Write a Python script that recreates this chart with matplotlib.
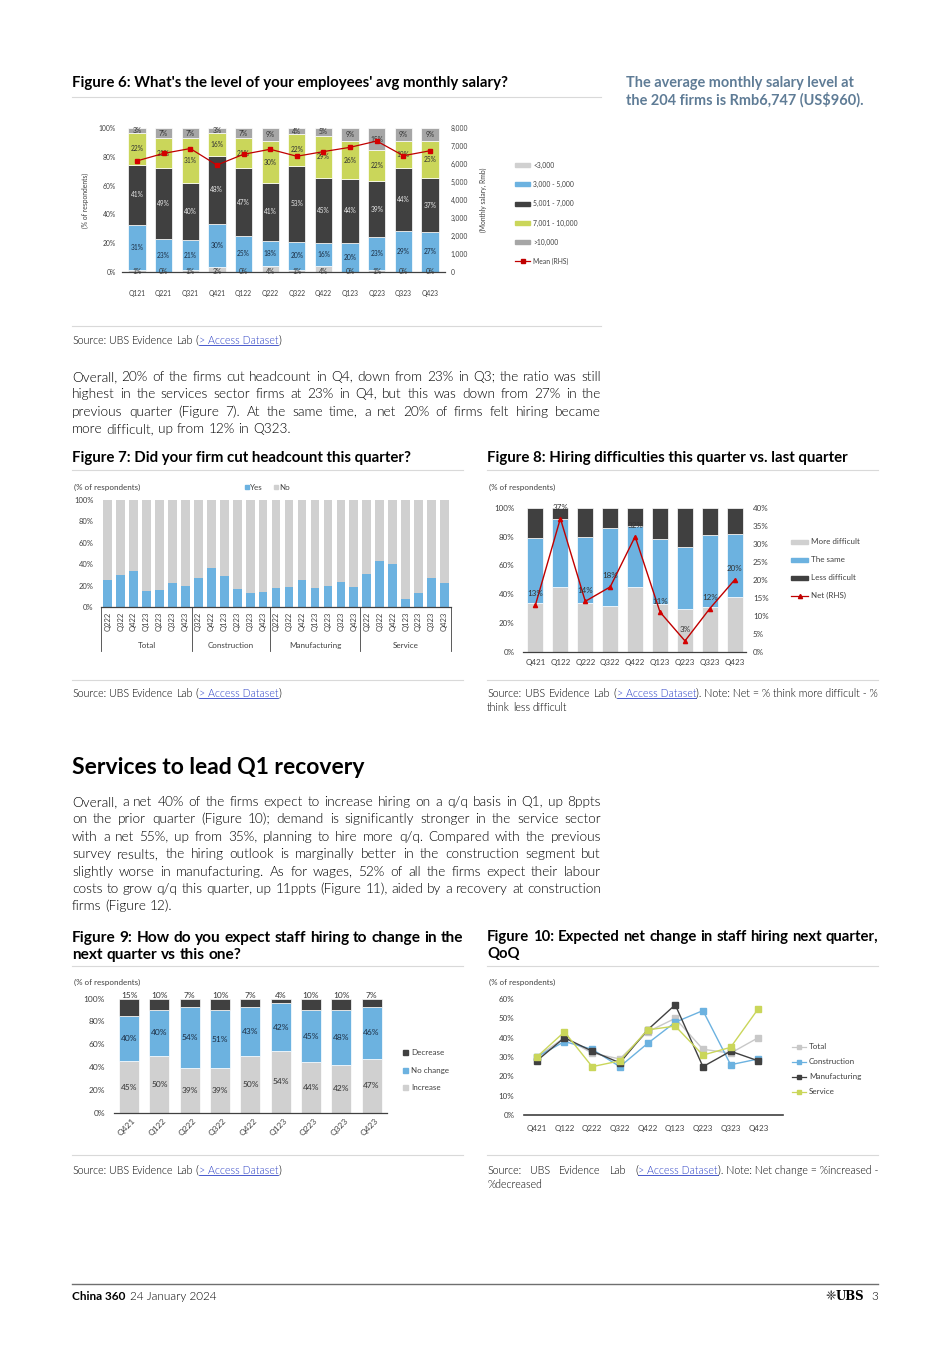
"""Rebuild the China 360 survey page (Figures 6-10) as a single PNG."""

import matplotlib
matplotlib.use("Agg")
import matplotlib.pyplot as plt  # noqa: E402
import matplotlib.transforms as mtransforms  # noqa: E402
from matplotlib.lines import Line2D  # noqa: E402
from matplotlib.patches import Rectangle  # noqa: E402
import numpy as np  # noqa: E402

W, H = 950, 1345
plt.rcParams["font.family"] = ["Lato", "DejaVu Sans"]

INK = "#404040"
BLUE = "#6cb2e0"
DARK = "#404040"
LIGHT = "#d0d0d0"
MIDGRAY = "#a6a6a6"
OLIVE = "#cad65a"
RED = "#d40000"
LINK = "#2b3fc4"
RULE = "#d9d9d9"
SIDE = "#5f7c96"
LIGHTW = 300  # Lato Light

# Figure 6: monthly salary bands (% of respondents) and mean salary (Rmb)
Q6 = ["Q121", "Q221", "Q321", "Q421", "Q122", "Q222",
      "Q322", "Q422", "Q123", "Q223", "Q323", "Q423"]
SAL_LT3 = [1, 0, 1, 3, 0, 4, 1, 4, 0, 1, 0, 0]
SAL_3_5 = [31, 23, 21, 30, 25, 18, 20, 16, 20, 23, 29, 27]
SAL_5_7 = [41, 49, 40, 48, 47, 41, 53, 45, 44, 39, 44, 37]
SAL_7_10 = [22, 21, 31, 16, 21, 30, 22, 29, 26, 22, 19, 25]
SAL_GT10 = [3, 7, 7, 3, 7, 9, 4, 5, 9, 15, 9, 9]
SAL_MEAN = [6180, 6600, 6870, 5950, 6550, 6830, 6440, 6700, 6940, 7290, 6470, 6747]
SAL_NAMES = ["<3,000", "3,000 - 5,000", "5,001 - 7,000", "7,001 - 10,000", ">10,000"]

# Figure 7: share of firms that cut headcount (Yes, %)
CUT_GROUPS = ["Total", "Construction", "Manufacturing", "Service"]
CUT_QTRS = [
    ["Q222", "Q322", "Q422", "Q123", "Q223", "Q323", "Q423"],
    ["Q322", "Q422", "Q123", "Q223", "Q323", "Q423"],
    ["Q222", "Q322", "Q422", "Q123", "Q223", "Q323", "Q423"],
    ["Q222", "Q322", "Q422", "Q123", "Q223", "Q323", "Q423"],
]
CUT_YES = [
    [25, 30, 34, 15, 16, 23, 20],
    [27, 37, 29, 17, 13, 14],
    [18, 19, 25, 18, 20, 24, 19],
    [31, 43, 40, 8, 13, 27, 23],
]

# Figure 8: hiring difficulty vs last quarter
Q8 = ["Q421", "Q122", "Q222", "Q322", "Q422", "Q123", "Q223", "Q323", "Q423"]
DIFF_MORE = [34, 45, 34, 32, 45, 33, 30, 31, 38]
DIFF_SAME = [45, 47, 46, 54, 42, 45, 43, 50, 44]
DIFF_LESS = [21, 8, 20, 14, 13, 22, 27, 19, 18]
DIFF_NET = [13, 37, 14, 18, 32, 11, 3, 12, 20]

# Figure 9: expected hiring next quarter
HIRE_INC = [45, 50, 39, 39, 50, 54, 44, 42, 47]
HIRE_SAME = [40, 40, 54, 51, 43, 42, 45, 48, 46]
HIRE_DEC = [15, 10, 7, 10, 7, 4, 10, 10, 7]

# Figure 10: net change in hiring by sector (%)
NET_TOTAL = [30, 40, 32, 29, 43, 50, 34, 32, 40]
NET_CONSTR = [30, 38, 34, 25, 37, 48, 54, 26, 29]
NET_MANUF = [28, 40, 33, 27, 44, 57, 25, 33, 28]
NET_SERV = [30, 43, 25, 28, 44, 46, 31, 35, 55]

PARA1 = [
    "Overall, 20% of the firms cut headcount in Q4, down from 23% in Q3; the ratio was still",
    "highest in the services sector firms at 23% in Q4, but this was down from 27% in the",
    "previous quarter (Figure 7). At the same time, a net 20% of firms felt hiring became",
    "more difficult, up from 12% in Q323.",
]
PARA2 = [
    "Overall, a net 40% of the firms expect to increase hiring on a q/q basis in Q1, up 8ppts",
    "on the prior quarter (Figure 10); demand is significantly stronger in the service sector",
    "with a net 55%, up from 35%, planning to hire more q/q. Compared with the previous",
    "survey results, the hiring outlook is marginally better in the construction segment but",
    "slightly worse in manufacturing. As for wages, 52% of all the firms expect their labour",
    "costs to grow q/q this quarter, up 11ppts (Figure 11), aided by a recovery at construction",
    "firms (Figure 12).",
]

fig = plt.figure(figsize=(W / 100, H / 100), dpi=100)
RENDERER = fig.canvas.get_renderer()


def fx(x):
    return x / W


def fy(y):
    return 1 - y / H


def add_axes(x0, y0, x1, y1):
    return fig.add_axes([fx(x0), fy(y1), (x1 - x0) / W, (y1 - y0) / H])


def txt(x, y, s, size, **kw):
    kw.setdefault("va", "center")
    kw.setdefault("color", "black")
    return fig.text(fx(x), fy(y), s, fontsize=size, **kw)


def width_px(t):
    return t.get_window_extent(RENDERER).width


def rule(x0, x1, y, color=RULE, lw=0.8):
    fig.add_artist(Line2D([fx(x0), fx(x1)], [fy(y), fy(y)], color=color, lw=lw,
                          transform=fig.transFigure))


# Font size that makes a string span the given pixel width.
def fit_size(s, width, **kw):
    t = txt(0, 0, s, 10, **kw)
    w = width_px(t)
    t.remove()
    return 10 * width / w


def link_source(note=""):
    tok = [[("Source:", False)], [("UBS", False)], [("Evidence", False)], [("Lab", False)],
           [("(", False), ("> Access Dataset", True), (")" + note, False)]]
    return tok


# Lay out lines word by word, justified between x0 and x1 (last line flush left).
# y0 is the visual centre of the first line; words sit on a common baseline.
def paragraph(x0, x1, y0, dy, lines, size, justify_last=False, **kw):
    color = kw.pop("color", "black")
    kw["va"] = "baseline"

    def build(tok, sz):
        out = []
        for s, link in tok:
            t = txt(0, 0, s, sz, color=LINK if link else color, **kw)
            out.append([t, width_px(t), link])
        return out

    toks = [[[(w, False)] for w in ln.split()] if isinstance(ln, str) else ln
            for ln in lines]
    while True:
        a, b = txt(0, 0, "n n", size, **kw), txt(0, 0, "nn", size, **kw)
        space = width_px(a) - width_px(b)
        a.remove()
        b.remove()
        built = [[build(tok, size) for tok in line] for line in toks]
        widest = max(sum(w for tok in line for _, w, _ in tok) + space * (len(line) - 1)
                     for line in built)
        if widest <= (x1 - x0) or size < 4:
            break
        for line in built:
            for tok in line:
                for t, _, _ in tok:
                    t.remove()
        size *= (x1 - x0) / widest * 0.998
    em = size * 100 / 72
    for i, line in enumerate(built):
        base = y0 + i * dy + em * 0.36
        total = sum(w for tok in line for _, w, _ in tok)
        last = i == len(built) - 1
        if (last and not justify_last) or len(line) == 1:
            gap = space
        else:
            gap = (x1 - x0 - total) / (len(line) - 1)
        x = x0
        for tok in line:
            for t, w, link in tok:
                t.set_position((fx(x), fy(base)))
                if link:
                    ul = base + em * 0.12
                    fig.add_artist(Line2D([fx(x), fx(x + w)], [fy(ul), fy(ul)], color=LINK,
                                          lw=0.6, transform=fig.transFigure))
                x += w
            x += gap
    return size


def style_axes(ax, size, left_pad, bottom_pad):
    for s in ax.spines.values():
        s.set_visible(False)
    ax.spines["bottom"].set_visible(True)
    ax.spines["bottom"].set_color(INK)
    ax.spines["bottom"].set_linewidth(0.9)
    ax.tick_params(length=0, labelsize=size, labelcolor=INK)
    ax.tick_params(axis="y", pad=left_pad)
    ax.tick_params(axis="x", pad=bottom_pad)
    ax.set_facecolor("none")


def legend_patch(x0, x1, y, color, label, size, h=4):
    fig.add_artist(Rectangle((fx(x0), fy(y + h / 2)), (x1 - x0) / W, h / H, color=color,
                             transform=fig.transFigure))
    txt(x1 + 3, y, label, size, color=INK)


def legend_line(x0, x1, y, color, marker, label, size, ms=3.5):
    fig.add_artist(Line2D([fx(x0), fx(x1)], [fy(y), fy(y)], color=color, lw=0.9,
                          transform=fig.transFigure))
    fig.add_artist(Line2D([fx((x0 + x1) / 2)], [fy(y)], color=color, marker=marker, ms=ms,
                          transform=fig.transFigure))
    txt(x1 + 3, y, label, size, color=INK)


def pct_ticks(ax, step, top):
    ticks = np.arange(0, top + 0.001, step)
    ax.set_yticks(ticks, [f"{t:.0f}%" for t in ticks])


# Figure 6: stacked salary bands with mean salary on the right axis.
def figure_6():
    ax = add_axes(122.3, 128.3, 444.7, 271.7)
    x = np.arange(len(Q6))
    raw = np.array([SAL_LT3, SAL_3_5, SAL_5_7, SAL_7_10, SAL_GT10], float)
    share = raw / raw.sum(axis=0) * 100
    colors = [LIGHT, BLUE, DARK, OLIVE, MIDGRAY]
    tcolors = ["#333333", "#1c2e44", "#e6e6e6", "#333333", "#333333"]
    bottom = np.zeros(len(x))
    for i in range(len(raw)):
        ax.bar(x, share[i], 0.65, bottom=bottom, color=colors[i], edgecolor="white",
               linewidth=0.5)
        for xi, b, p, v in zip(x, bottom, share[i], raw[i]):
            yy = 0.0 if i == 0 else b + p / 2
            ax.text(xi, yy, f"{v:.0f}%", ha="center", va="center", fontsize=4.8,
                    color=tcolors[i])
        bottom += share[i]
    ax.set_xlim(-0.55, len(x) - 0.45)
    ax.set_ylim(0, 100)
    style_axes(ax, 4.9, 4.5, 13)
    ax.set_xticks(x, Q6)
    pct_ticks(ax, 20, 100)
    ax2 = ax.twinx()
    ax2.plot(x, SAL_MEAN, color="#c00000", lw=0.9, marker="s", ms=3.3, mfc=RED, mec=RED)
    ax2.set_ylim(0, 8000)
    for s in ax2.spines.values():
        s.set_visible(False)
    ticks = np.arange(0, 8001, 1000)
    ax2.set_yticks(ticks, [f"{t:,.0f}" for t in ticks])
    ax2.tick_params(length=0, labelsize=4.9, labelcolor=INK, pad=4.5)
    txt(85, 200, "(% of respondents)", 4.9, color=INK, rotation=90, ha="center")
    txt(483, 200, "(Monthly salary, Rmb)", 4.9, color=INK, rotation=90, ha="center")
    ys = [165, 184.3, 203.7, 223.3, 242.3]
    for y, c, name in zip(ys, colors, SAL_NAMES):
        legend_patch(515, 530, y, c, name, 4.9)
    legend_line(515, 530, 261.3, "#c00000", "s", "Mean (RHS)", 4.9, ms=3)


# Figure 7: share of firms cutting headcount by sector.
def figure_7():
    ax = add_axes(101.2, 500, 451, 607.3)
    labels = [q for grp in CUT_QTRS for q in grp]
    yes = np.array([v for grp in CUT_YES for v in grp], float)
    x = np.arange(len(yes))
    ax.bar(x, yes, 0.67, color=BLUE)
    ax.bar(x, 100 - yes, 0.67, bottom=yes, color=LIGHT)
    ax.set_xlim(-0.5, len(x) - 0.5)
    ax.set_ylim(0, 100)
    style_axes(ax, 5.5, 5.5, 3)
    ax.set_xticks(x, labels, rotation=90)
    pct_ticks(ax, 20, 100)
    trans = ax.get_xaxis_transform()
    sizes = [len(g) for g in CUT_QTRS]
    edges = np.concatenate([[0], np.cumsum(sizes)]) - 0.5
    for e in edges:
        ax.plot([e, e], [0, -0.41], transform=trans, color=INK, lw=0.6, clip_on=False)
    for lo, hi, name in zip(edges[:-1], edges[1:], CUT_GROUPS):
        ax.text((lo + hi) / 2, -0.36, name, transform=trans, ha="center", va="center",
                fontsize=5.8, color=INK)
    txt(74, 487, "(% of respondents)", 5.8, color=INK)
    fig.add_artist(Rectangle((fx(245), fy(489)), 4 / W, 4 / H, color=BLUE,
                             transform=fig.transFigure))
    txt(250, 487, "Yes", 5.8, color=INK)
    fig.add_artist(Rectangle((fx(274), fy(489)), 4 / W, 4 / H, color=LIGHT,
                             transform=fig.transFigure))
    txt(279, 487, "No", 5.8, color=INK)


# Figure 8: hiring difficulty stacks with net balance on the right axis.
def figure_8():
    ax = add_axes(523, 507.7, 746, 651.7)
    x = np.arange(len(Q8))
    more, same, less = (np.array(a, float) for a in (DIFF_MORE, DIFF_SAME, DIFF_LESS))
    ax.bar(x, more, 0.64, color=LIGHT, edgecolor="white", linewidth=0.5)
    ax.bar(x, same, 0.64, bottom=more, color=BLUE, edgecolor="white", linewidth=0.5)
    ax.bar(x, less, 0.64, bottom=more + same, color=DARK, edgecolor="white", linewidth=0.5)
    ax.set_xlim(-0.5, len(x) - 0.55)
    ax.set_ylim(0, 100)
    style_axes(ax, 5.8, 6.2, 5)
    ax.set_xticks(x, Q8)
    pct_ticks(ax, 20, 100)
    ax2 = ax.twinx()
    ax2.plot(x, DIFF_NET, color="#c00000", lw=1.0, marker="^", ms=3, mfc=RED, mec=RED)
    ax2.set_ylim(0, 40)
    for s in ax2.spines.values():
        s.set_visible(False)
    ticks = np.arange(0, 41, 5)
    ax2.set_yticks(ticks, [f"{t:.0f}%" for t in ticks])
    ax2.tick_params(length=0, labelsize=5.8, labelcolor=INK, pad=5)
    for xi, v in zip(x, DIFF_NET):
        ax2.annotate(f"{v}%", (xi, v), xytext=(0, 11), textcoords="offset pixels",
                     ha="center", va="center", fontsize=5.8, color="#333333")
    txt(489, 487, "(% of respondents)", 5.8, color=INK)
    legend_patch(791, 808, 541.7, LIGHT, "More difficult", 5.8)
    legend_patch(791, 808, 560, BLUE, "The same", 5.8)
    legend_patch(791, 808, 577.7, DARK, "Less difficult", 5.8)
    legend_line(791, 808, 595.5, "#c00000", "^", "Net (RHS)", 5.8, ms=3)


# Figure 9: expected change in staff hiring next quarter.
def figure_9():
    ax = add_axes(114, 998.7, 386.7, 1112.7)
    x = np.arange(len(Q8))
    raw = np.array([HIRE_INC, HIRE_SAME, HIRE_DEC], float)
    share = raw / raw.sum(axis=0) * 100
    colors = [LIGHT, BLUE, DARK]
    tcolors = ["#333333", "#1c2e44", "#333333"]
    bottom = np.zeros(len(x))
    for i in range(3):
        ax.bar(x, share[i], 0.66, bottom=bottom, color=colors[i], edgecolor="white",
               linewidth=0.5)
        for xi, b, p, v in zip(x, bottom, share[i], raw[i]):
            if i == 2:
                ax.annotate(f"{v:.0f}%", (xi, b + p), xytext=(0, 3),
                            textcoords="offset pixels", ha="center", va="center",
                            fontsize=6, color="#333333", annotation_clip=False)
            else:
                ax.text(xi, b + p / 2, f"{v:.0f}%", ha="center", va="center", fontsize=6,
                        color=tcolors[i])
        bottom += share[i]
    ax.set_xlim(-0.5, len(x) - 0.5)
    ax.set_ylim(0, 100)
    style_axes(ax, 6, 6.5, 3)
    ax.set_xticks(x, Q8, rotation=45, ha="right", va="top", rotation_mode="anchor")
    shift = mtransforms.ScaledTranslation(0.03, 0, fig.dpi_scale_trans)
    for lab in ax.get_xticklabels():
        lab.set_transform(lab.get_transform() + shift)
    pct_ticks(ax, 20, 100)
    txt(74, 982, "(% of respondents)", 5.8, color=INK)
    for y, c, name in zip([1052.7, 1070.7, 1087.7], [DARK, BLUE, LIGHT],
                          ["Decrease", "No change", "Increase"]):
        fig.add_artist(Rectangle((fx(403), fy(y + 2.5)), 5 / W, 5 / H, color=c,
                                 transform=fig.transFigure))
        txt(411, y, name, 5.8, color=INK)


# Figure 10: expected net change in hiring by sector.
def figure_10():
    ax = add_axes(524, 999, 782.7, 1115)
    x = np.arange(len(Q8))
    series = [("Total", NET_TOTAL, "#c8c8c8"), ("Construction", NET_CONSTR, BLUE),
              ("Manufacturing", NET_MANUF, DARK), ("Service", NET_SERV, OLIVE)]
    for name, vals, c in series:
        ax.plot(x, vals, color=c, lw=1.0, marker="s", ms=4, label=name)
    ax.set_xlim(-0.46, 8.88)
    ax.set_ylim(0, 60)
    style_axes(ax, 5.8, 7, 7)
    ax.spines["bottom"].set_linewidth(1.2)
    ax.set_xticks(x, Q8)
    pct_ticks(ax, 10, 60)
    txt(489, 982, "(% of respondents)", 5.8, color=INK)
    for y, (name, _, c) in zip([1046.7, 1062, 1077, 1092], series):
        legend_line(792, 806, y, c, "s", name, 5.8, ms=3.5)


def page_text():
    head = fit_size("Figure 7: Did your firm cut headcount this quarter?", 339, weight="bold")
    txt(72, 83, "Figure 6: What's the level of your employees' avg monthly salary?", head,
        weight="bold")
    side = fit_size("the 204 firms is Rmb6,747 (US$960).", 238, weight="bold")
    txt(626, 83, "The average monthly salary level at", side, weight="bold", color=SIDE)
    txt(626, 100, "the 204 firms is Rmb6,747 (US$960).", side, weight="bold", color=SIDE)
    rule(72, 601, 97)
    rule(72, 601, 326)
    src = fit_size("Source: UBS Evidence Lab (> Access Dataset)", 210, weight=LIGHTW)
    paragraph(72, 601, 340, 14, [link_source()], src, weight=LIGHTW)

    body = paragraph(72, 601, 376, 17.4, PARA1, 9.8, weight=LIGHTW)

    txt(72, 458, "Figure 7: Did your firm cut headcount this quarter?", head, weight="bold")
    txt(487, 458, "Figure 8: Hiring difficulties this quarter vs. last quarter", head,
        weight="bold")
    rule(72, 463, 470)
    rule(487, 878, 470)
    rule(72, 463, 680)
    rule(487, 878, 680)
    paragraph(72, 463, 693, 14, [link_source()], src, weight=LIGHTW)
    fig8_src = link_source(". Note: Net = % think more difficult - %")
    paragraph(487, 878, 693, 14, [fig8_src, "think less difficult"], src, weight=LIGHTW)

    big = fit_size("Services to lead Q1 recovery", 294, weight="bold")
    txt(72, 768, "Services to lead Q1 recovery", big, weight="bold")
    paragraph(72, 601, 801, 17.4, PARA2, body, weight=LIGHTW)

    paragraph(72, 463, 936, 17, ["Figure 9: How do you expect staff hiring to change in the",
                                 "next quarter vs this one?"], head * 1.03, weight="bold")
    paragraph(487, 878, 936, 17, ["Figure 10: Expected net change in staff hiring next quarter,",
                                  "QoQ"], head * 1.03, weight="bold")
    rule(72, 463, 966)
    rule(487, 878, 966)
    rule(72, 463, 1155)
    rule(487, 878, 1155)
    paragraph(72, 463, 1170, 14, [link_source()], src, weight=LIGHTW)
    fig10_src = link_source(". Note: Net change = %increased -")
    paragraph(487, 878, 1170, 14, [fig10_src, "%decreased"], src, weight=LIGHTW)

    rule(72, 878, 1284, color="#6f6f6f", lw=1.0)
    t = txt(72, 1297, "China 360", 8.5, weight="bold")
    txt(72 + width_px(t) + 5, 1297, "24 January 2024", 8.5, weight=LIGHTW)
    txt(878, 1297, "3", 8.5, ha="right", weight=LIGHTW)
    txt(864, 1297, "UBS", 8.5, ha="right", weight="bold", family="DejaVu Serif")
    txt(836, 1297, "\u2748", 9, ha="right", family="DejaVu Sans", color="#222222")


def main():
    figure_6()
    figure_7()
    figure_8()
    figure_9()
    figure_10()
    page_text()
    fig.savefig("out.png", dpi=100, facecolor="white")


if __name__ == "__main__":
    main()
